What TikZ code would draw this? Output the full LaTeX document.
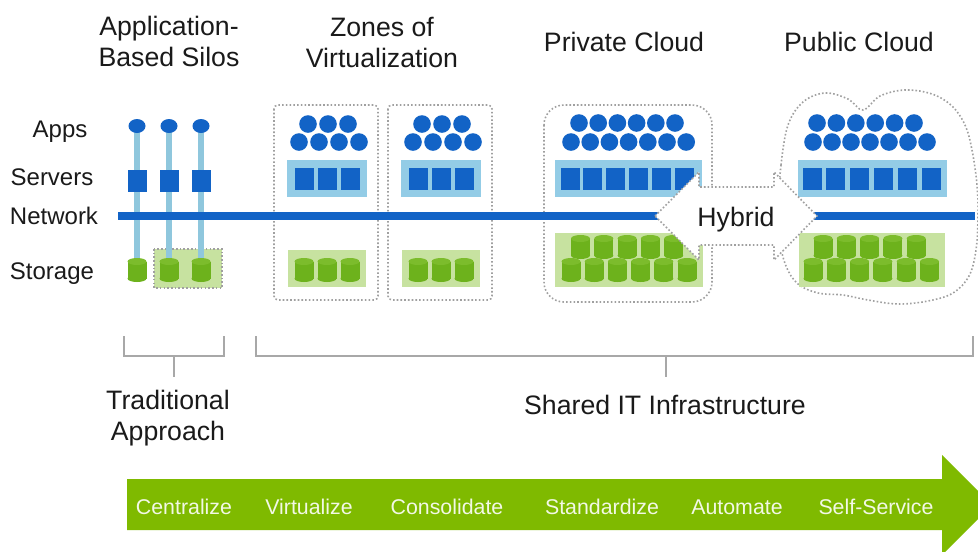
\documentclass[tikz,border=0pt]{standalone}
\usepackage{fontspec}
\setmainfont{Liberation Sans}
\definecolor{dblue}{HTML}{1263C6}
\definecolor{lblue}{HTML}{93CCE6}
\definecolor{vline}{HTML}{8FC7DD}
\definecolor{cang}{HTML}{6DB21C}
\definecolor{cantop}{HTML}{7CBC2C}
\definecolor{lgreen}{HTML}{C7E2A0}
\definecolor{agreen}{HTML}{7FBA00}
\definecolor{dotgray}{HTML}{A0A0A0}
\definecolor{brgray}{HTML}{A8A8A8}
\definecolor{txt}{HTML}{1A1A1A}
\begin{document}
\begin{tikzpicture}[x=0.75pt,y=-0.75pt,
  title/.style={font=\fontsize{20}{23}\selectfont, text=txt, anchor=base, inner sep=0pt},
  rowlbl/.style={font=\fontsize{18}{20}\selectfont, text=txt, anchor=base, inner sep=0pt},
  steplbl/.style={font=\fontsize{16}{18}\selectfont, text=white!90!agreen, anchor=base, inner sep=0pt},
  dotbox/.style={draw=dotgray, line width=1.2pt, dash pattern=on 1.2pt off 1.6pt},
  bracket/.style={draw=brgray, line width=1.3pt},
  app/.pic={\fill[dblue] (0,0) circle (8.8);},
  srv/.pic={\fill[dblue] (-9.5,-11) rectangle (9.5,11);},
  can/.pic={\fill[cang] (-9.5,-8.5) rectangle (9.5,8.5);
            \fill[cang] (0,8.5) ellipse (9.5 and 3.5);
            \fill[cantop] (0,-8.5) ellipse (9.5 and 3.5);}
]
\clip (0,0) rectangle (978,551);
\fill[white] (0,0) rectangle (978,551);

% titles
\node[title] (t1a) at (169,35) {Application-};
\node[title] (t1b) at (169,66) {Based Silos};
\node[title] (t2a) at (382,36) {Zones of};
\node[title] (t2b) at (382,67) {Virtualization};
\node[title] (t3) at (624,51) {Private Cloud};
\node[title] (t4) at (859,51) {Public Cloud};

% row labels
\node[rowlbl] (lapps) at (60,137) {Apps};
\node[rowlbl] (lsrv) at (52,185) {Servers};
\node[rowlbl] (lnet) at (54,224) {Network};
\node[rowlbl] (lsto) at (52,279) {Storage};

% silos
\fill[lgreen] (154,249) rectangle (222,288);
\draw[dotbox] (154,249) rectangle (222,288);
\foreach \x in {137,169,201} {
  \draw[vline, line width=4.5pt] (\x,126) -- (\x,262);
  \fill[dblue] (\x,126) ellipse (8.5 and 7);
  \pic at (\x,181) {srv};
  \pic at (\x,270) {can};
}

% zones of virtualization
\foreach \o in {0,114} {
  \draw[dotbox, rounded corners=3] ({274+\o},105) rectangle ({378+\o},300);
  \foreach \x in {308,328,348} \pic at ({\x+\o},124) {app};
  \foreach \x in {299,319,339,359} \pic at ({\x+\o},142) {app};
  \fill[lblue] ({287+\o},160) rectangle ({367+\o},197);
  \foreach \x in {304,327,350} \pic at ({\x+\o},179) {srv};
  \fill[lgreen] ({288+\o},250) rectangle ({366+\o},287);
  \foreach \x in {304,327,350} \pic at ({\x+\o},270) {can};
}

% private cloud
\draw[dotbox, rounded corners=15] (544,105) rectangle (712,302);
\foreach \i in {0,...,5} \pic at ({579+19.2*\i},123) {app};
\foreach \i in {0,...,6} \pic at ({571+19.2*\i},142) {app};
\fill[lblue] (555,160) rectangle (702,197);
\foreach \i in {0,...,5} \pic at ({570+22.8*\i},179) {srv};
\fill[lgreen] (555,233) rectangle (703,287);
\foreach \i in {0,...,4} \pic at ({580.5+23.3*\i},247) {can};
\foreach \i in {0,...,5} \pic at ({571+23.2*\i},270) {can};

% public cloud
\draw[dotbox] plot[smooth cycle, tension=0.6] coordinates {
  (779,200) (781,165) (788,125) (803,102) (825,93) (848,99) (863,110)
  (880,96) (905,90) (932,94) (952,106) (965,125) (972,150) (977,185)
  (978,216) (976,250) (969,276) (953,293) (928,301) (898,304) (868,300)
  (843,295) (818,293) (798,284) (786,266) (780,240)};
\foreach \i in {0,...,5} \pic at ({817+19.4*\i},123) {app};
\foreach \i in {0,...,6} \pic at ({813+19*\i},142) {app};
\fill[lblue] (798,160) rectangle (947,197);
\foreach \i in {0,...,5} \pic at ({812+23.8*\i},179) {srv};
\fill[lgreen] (799,233) rectangle (945,287);
\foreach \i in {0,...,4} \pic at ({823+23.3*\i},247) {can};
\foreach \i in {0,...,5} \pic at ({813+23.3*\i},270) {can};

% network line
\draw[dblue, line width=6pt] (118,216) -- (975,216);

% hybrid arrow
\filldraw[fill=white, dotbox] (655,216) -- (699,172) -- (699,187) -- (774,187)
  -- (774,172) -- (817,216) -- (774,260) -- (774,245) -- (699,245)
  -- (699,260) -- cycle;
\node[title] (hyb) at (736,226) {Hybrid};

% brackets
\coordinate (bl1) at (124,336);
\coordinate (bl2) at (224,336);
\coordinate (blt) at (174,356);
\coordinate (br1) at (256,336);
\coordinate (br2) at (973,336);
\coordinate (brt) at (666,356);
\draw[bracket] (bl1) |- (bl2 |- blt) -- (bl2);
\draw[bracket] (blt) -- ++(0,21);
\draw[bracket] (br1) |- (br2 |- brt) -- (br2);
\draw[bracket] (brt) -- ++(0,21);
\node[title] (trad1) at (168,409) {Traditional};
\node[title] (trad2) at (168,440) {Approach};
\node[title] (shared) at (665,414) {Shared IT Infrastructure};

% bottom arrow
\fill[agreen] (127,479) -- (942,479) -- (942,455) -- (992,505) -- (942,555)
  -- (942,530) -- (127,530) -- cycle;
\node[steplbl] (s1) at (184,514) {Centralize};
\node[steplbl] (s2) at (309,514) {Virtualize};
\node[steplbl] (s3) at (447,514) {Consolidate};
\node[steplbl] (s4) at (602,514) {Standardize};
\node[steplbl] (s5) at (737,514) {Automate};
\node[steplbl] (s6) at (876,514) {Self-Service};
\end{tikzpicture}
\end{document}
